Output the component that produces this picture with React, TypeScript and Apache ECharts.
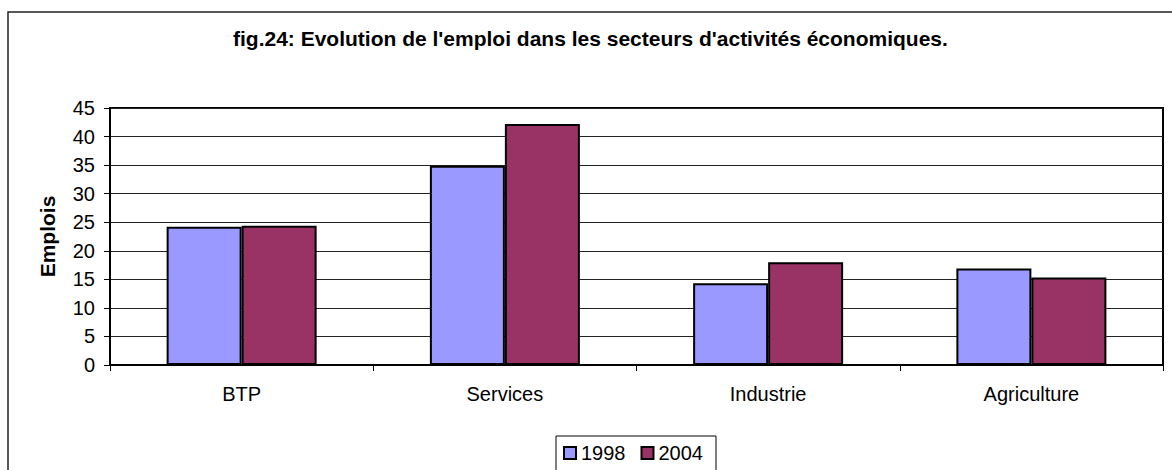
import React, { useEffect, useRef } from "react";
import * as echarts from "echarts";

const titleText = "fig.24: Evolution de l'emploi dans les secteurs d'activités économiques.";
const categories = ["BTP", "Services", "Industrie", "Agriculture"];
const seriesNames = ["1998", "2004"];
const values1998 = [24.2, 34.9, 14.3, 16.9];
const values2004 = [24.4, 42.2, 18.0, 15.3];
const yAxisName = "Emplois";

const FONT = "'Liberation Sans', Arial, Helvetica, sans-serif";

export default function App() {
  const ref = useRef<HTMLDivElement>(null);

  useEffect(() => {
    if (!ref.current) return;
    const chart = echarts.init(ref.current, null, { renderer: "svg" });
    chart.setOption({
      animation: false,
      backgroundColor: "#ffffff",
      textStyle: { fontFamily: FONT, color: "#000" },
      graphic: [
        {
          type: "rect",
          shape: { x: 8, y: 12, width: 1200, height: 500 },
          style: { fill: "none", stroke: "#222", lineWidth: 1.5 },
          silent: true,
          z: -10,
        },
      ],
      title: {
        text: titleText,
        left: 233,
        top: 28,
        padding: 0,
        textStyle: { fontFamily: FONT, fontSize: 21, fontWeight: "bold", color: "#000" },
      },
      legend: {
        data: seriesNames,
        left: 556,
        top: 436,
        orient: "horizontal",
        icon: "rect",
        itemWidth: 12,
        itemHeight: 12,
        itemGap: 15,
        padding: [7, 13, 10, 7],
        borderColor: "#000",
        borderWidth: 1,
        textStyle: { fontFamily: FONT, fontSize: 20, color: "#000", padding: [0, 0, 0, 0] },
      },
      grid: {
        left: 110,
        top: 108,
        right: 9,
        bottom: 105,
        show: true,
        borderColor: "#000",
        borderWidth: 2,
        containLabel: false,
      },
      xAxis: {
        type: "category",
        data: categories,
        boundaryGap: true,
        axisLine: { show: true, lineStyle: { color: "#000", width: 2 } },
        axisTick: { show: true, alignWithLabel: false, length: 6, lineStyle: { color: "#000", width: 1 } },
        axisLabel: { fontFamily: FONT, fontSize: 20, color: "#000", margin: 19 },
        splitLine: { show: false },
      },
      yAxis: {
        type: "value",
        min: 0,
        max: 45,
        interval: 5,
        name: yAxisName,
        nameLocation: "middle",
        nameRotate: 90,
        nameGap: 52,
        nameTextStyle: { fontFamily: FONT, fontSize: 21, fontWeight: "bold", color: "#000" },
        axisLine: { show: true, lineStyle: { color: "#000", width: 2 } },
        axisTick: { show: true, length: 6, lineStyle: { color: "#000", width: 1 } },
        axisLabel: { fontFamily: FONT, fontSize: 20, color: "#000", margin: 15 },
        splitLine: { show: true, lineStyle: { color: "#222", width: 1 } },
      },
      series: [
        {
          name: seriesNames[0],
          type: "bar",
          data: values1998,
          barWidth: 75,
          barGap: "0%",
          itemStyle: { color: "#9999FF", borderColor: "#000", borderWidth: 2 },
        },
        {
          name: seriesNames[1],
          type: "bar",
          data: values2004,
          barWidth: 75,
          barGap: "0%",
          itemStyle: { color: "#993366", borderColor: "#000", borderWidth: 2 },
        },
      ],
    });
    return () => chart.dispose();
  }, []);

  return (
    <div
      ref={ref}
      style={{ position: "absolute", left: 0, top: 0, width: 1172, height: 470 }}
    />
  );
}
